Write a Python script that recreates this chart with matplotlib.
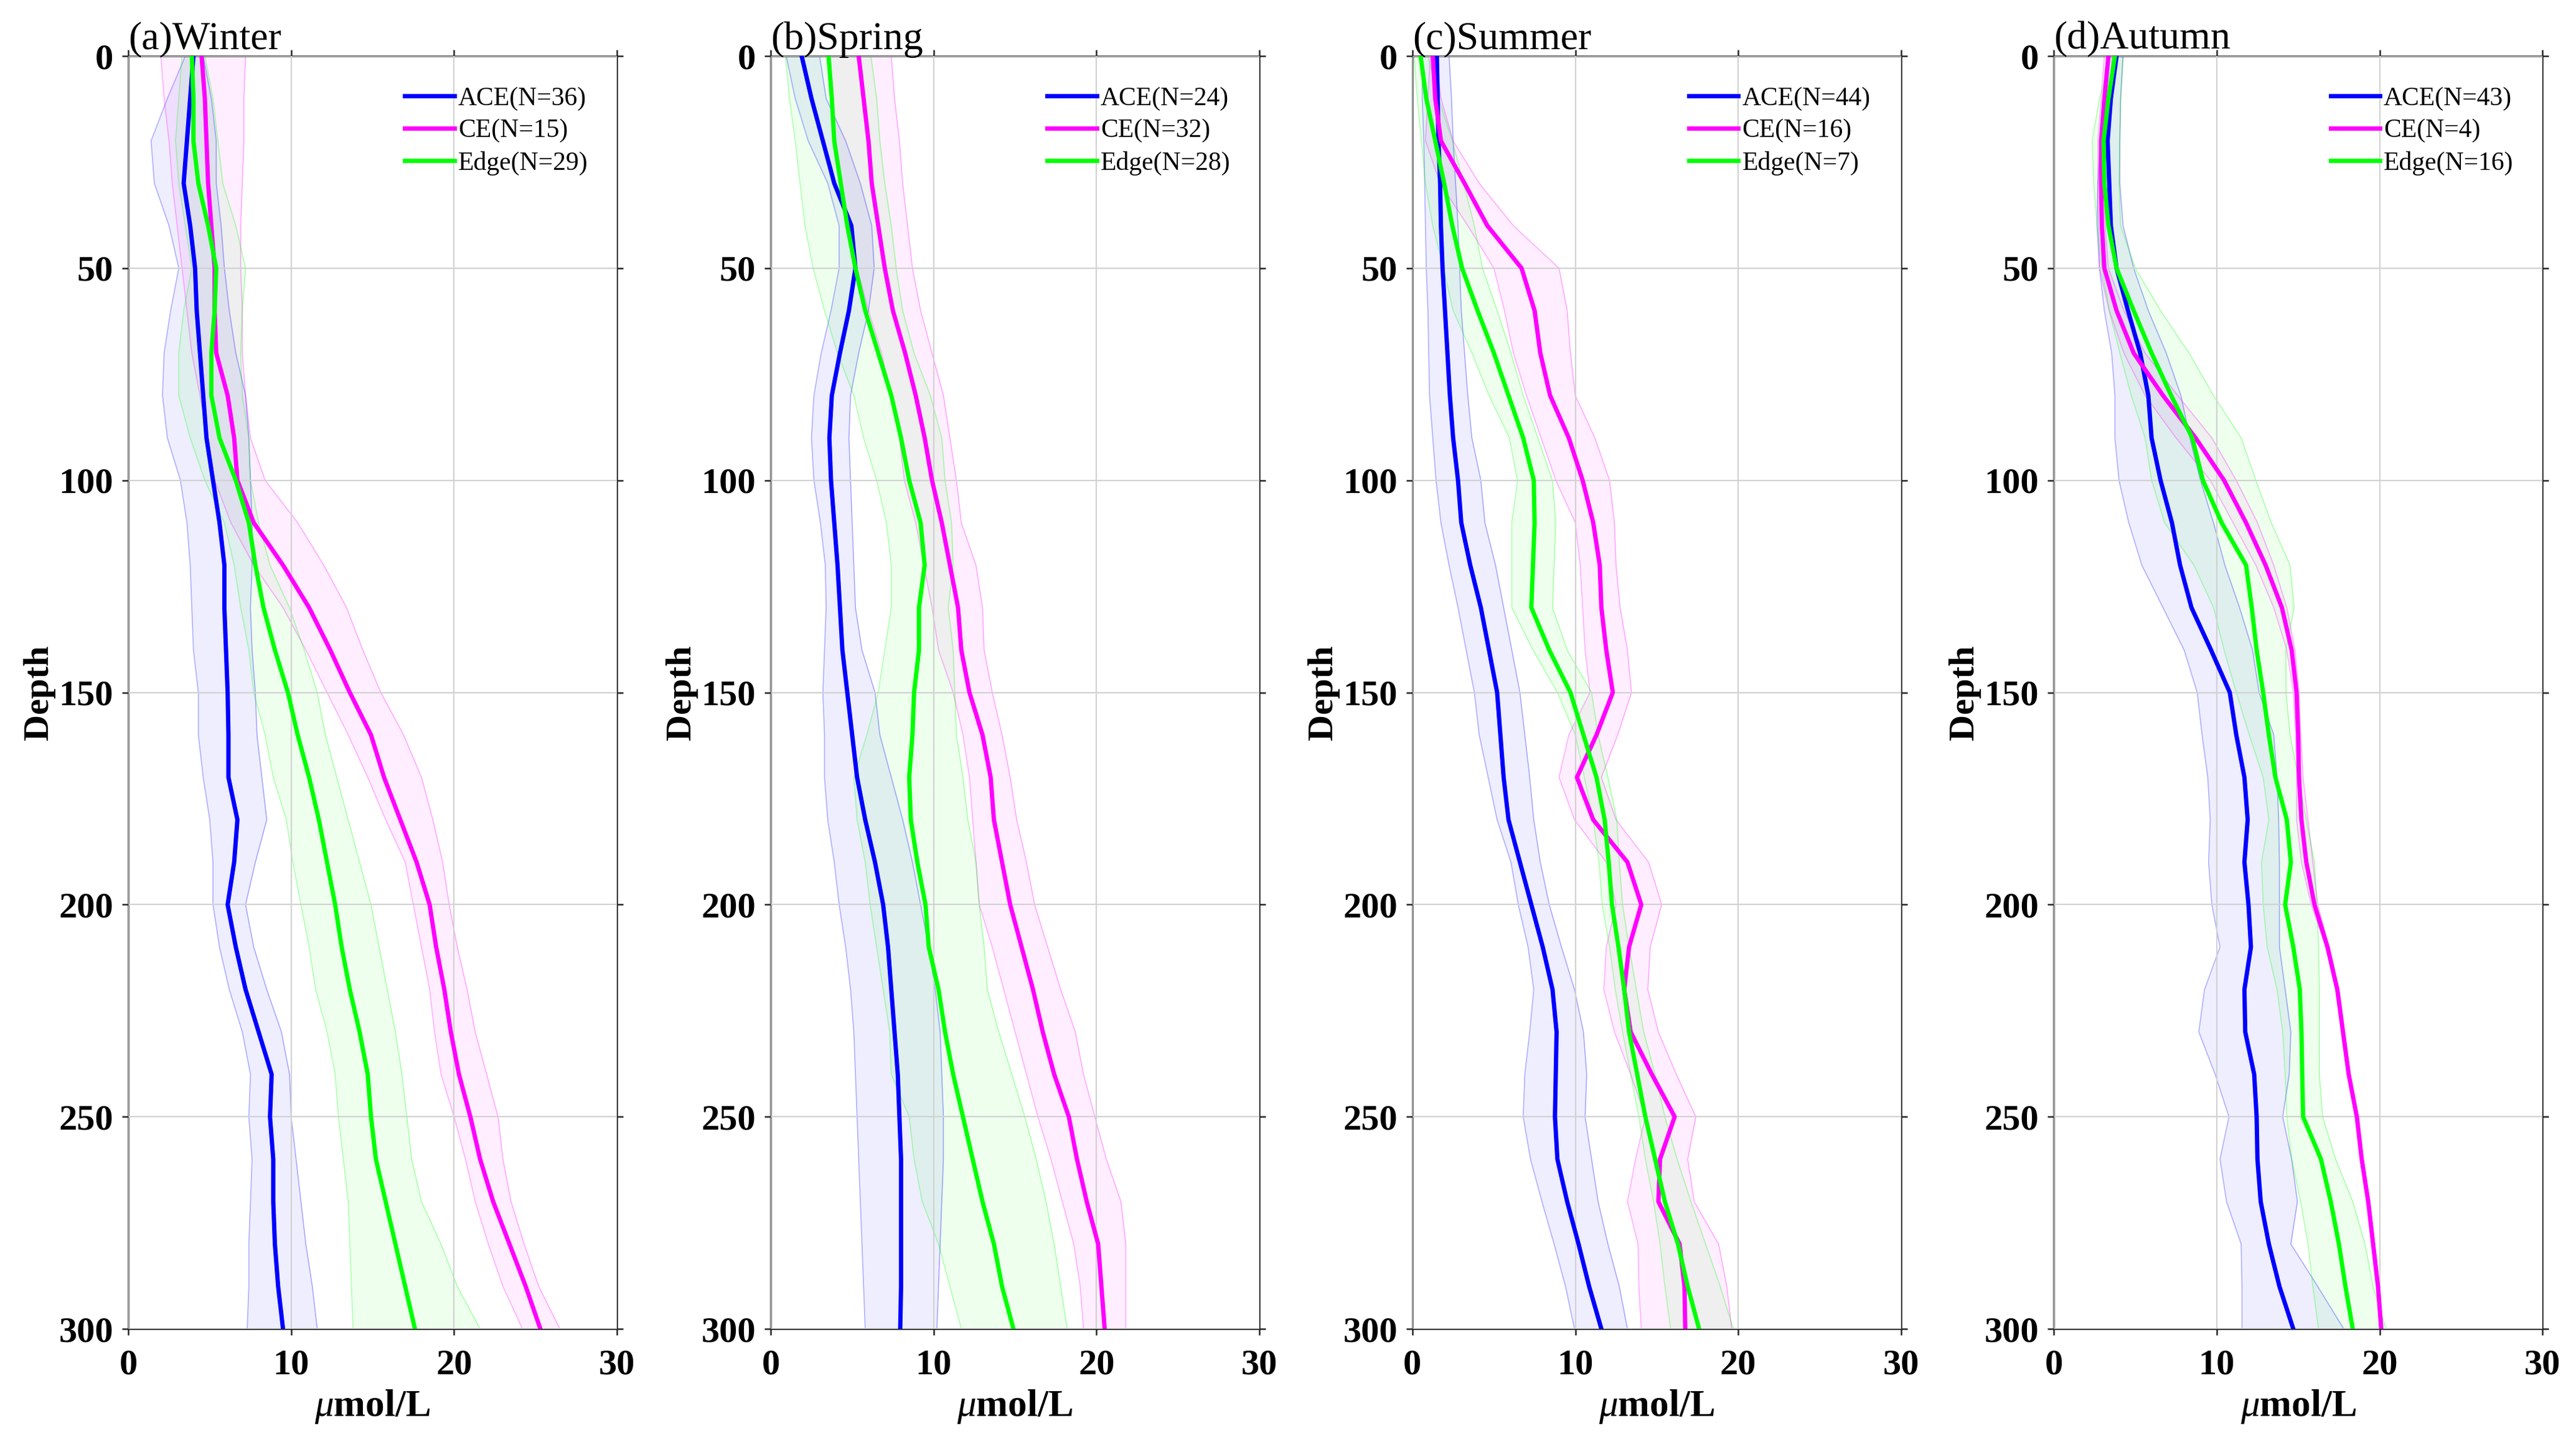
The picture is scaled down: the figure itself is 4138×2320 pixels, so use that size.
import matplotlib
matplotlib.use('Agg')
import matplotlib.pyplot as plt

plt.rcParams['font.family'] = 'Liberation Serif'
plt.rcParams['mathtext.fontset'] = 'custom'
plt.rcParams['mathtext.rm'] = 'Liberation Serif:bold'
plt.rcParams['mathtext.bf'] = 'Liberation Serif:bold'
plt.rcParams['mathtext.it'] = 'Liberation Serif:italic'

# depth levels (m), every 10 m
depth = list(range(0, 301, 10))

# ---------------- Winter ----------------
w_ace    = [4.0, 3.8, 3.6, 3.4, 3.8, 4.1, 4.2, 4.4, 4.6, 4.8, 5.2, 5.6, 5.9, 5.9, 6.0, 6.1, 6.15, 6.15, 6.7, 6.5, 6.1, 6.6, 7.2, 8.0, 8.8, 8.7, 8.9, 8.9, 9.0, 9.2, 9.5]
w_ace_lo = [3.5, 2.4, 1.4, 1.6, 2.5, 3.1, 2.6, 2.2, 2.1, 2.4, 3.2, 3.6, 3.8, 3.9, 4.0, 4.3, 4.3, 4.6, 5.0, 5.2, 5.2, 5.6, 6.2, 7.0, 7.5, 7.4, 7.6, 7.5, 7.4, 7.4, 7.3]
w_ace_hi = [4.6, 5.1, 5.4, 5.4, 5.7, 5.9, 6.2, 6.6, 7.2, 7.4, 7.5, 7.6, 7.6, 7.5, 7.6, 7.8, 7.9, 8.2, 8.5, 7.8, 7.2, 7.7, 8.5, 9.4, 9.9, 10.0, 10.3, 10.6, 10.9, 11.3, 11.6]
w_ce     = [4.5, 4.7, 4.8, 4.9, 5.1, 5.3, 5.3, 5.4, 6.1, 6.5, 6.7, 7.7, 9.5, 11.1, 12.4, 13.6, 14.9, 15.7, 16.7, 17.7, 18.5, 18.9, 19.4, 19.8, 20.3, 21.0, 21.6, 22.4, 23.4, 24.4, 25.3]
w_ce_lo  = [2.0, 2.2, 2.5, 2.7, 3.0, 3.3, 3.6, 3.9, 4.4, 4.9, 5.3, 6.3, 7.7, 9.5, 10.9, 12.2, 13.5, 14.7, 15.8, 17.0, 17.5, 18.0, 18.5, 18.8, 19.2, 20.0, 20.7, 21.3, 22.1, 23.0, 24.2]
w_ce_hi  = [7.2, 7.1, 7.1, 7.0, 6.9, 6.9, 7.0, 7.0, 7.2, 7.5, 8.4, 10.4, 12.0, 13.4, 14.4, 15.5, 16.9, 18.0, 18.7, 19.3, 19.7, 20.2, 20.8, 21.3, 22.0, 22.7, 23.0, 23.5, 24.3, 25.2, 26.5]
w_edge    = [3.9, 4.0, 4.0, 4.3, 4.9, 5.4, 5.3, 5.1, 5.1, 5.6, 6.6, 7.4, 7.8, 8.3, 9.0, 9.8, 10.4, 11.1, 11.7, 12.2, 12.7, 13.1, 13.6, 14.2, 14.7, 14.9, 15.2, 15.8, 16.4, 17.0, 17.6]
w_edge_lo = [3.3, 3.1, 2.9, 3.1, 3.5, 3.9, 3.4, 3.1, 3.1, 3.8, 4.7, 5.9, 6.5, 6.9, 7.4, 7.7, 8.4, 8.9, 9.7, 10.1, 10.6, 11.1, 11.5, 12.2, 12.7, 12.9, 13.2, 13.5, 13.6, 13.7, 13.8]
w_edge_hi = [4.7, 5.2, 5.5, 5.8, 6.6, 7.2, 7.0, 6.9, 7.0, 7.4, 7.5, 8.0, 8.7, 9.9, 10.8, 11.6, 12.1, 12.8, 13.5, 14.2, 14.9, 15.4, 15.9, 16.4, 16.8, 17.1, 17.4, 18.0, 19.2, 20.2, 21.6]

# ---------------- Spring ----------------
s_ace    = [1.9, 2.5, 3.2, 3.9, 4.95, 5.2, 4.8, 4.25, 3.75, 3.6, 3.7, 3.9, 4.1, 4.25, 4.4, 4.7, 5.0, 5.3, 5.8, 6.4, 6.9, 7.2, 7.4, 7.6, 7.8, 7.9, 8.0, 8.0, 8.0, 8.0, 7.95]
s_ace_lo = [0.95, 1.5, 2.3, 3.5, 4.2, 4.2, 3.7, 3.1, 2.65, 2.5, 2.65, 3.05, 3.35, 3.4, 3.3, 3.2, 3.3, 3.3, 3.5, 3.9, 4.2, 4.6, 4.9, 5.1, 5.2, 5.3, 5.4, 5.5, 5.6, 5.7, 5.8]
s_ace_hi = [3.0, 3.4, 4.6, 5.5, 6.2, 6.35, 6.0, 5.4, 4.9, 4.8, 4.9, 5.0, 5.1, 5.2, 5.6, 6.4, 6.7, 7.4, 8.1, 8.7, 9.2, 9.7, 10.1, 10.4, 10.5, 10.6, 10.6, 10.5, 10.4, 10.3, 10.2]
s_ce     = [5.4, 5.7, 6.0, 6.2, 6.6, 7.0, 7.5, 8.25, 8.9, 9.45, 9.9, 10.5, 11.0, 11.5, 11.7, 12.2, 13.0, 13.5, 13.7, 14.2, 14.7, 15.4, 16.1, 16.7, 17.4, 18.3, 18.8, 19.4, 20.1, 20.3, 20.5]
s_ce_lo  = [3.6, 3.7, 3.9, 4.3, 4.8, 5.3, 6.0, 6.8, 7.4, 7.9, 8.2, 8.9, 9.4, 9.9, 10.3, 11.2, 11.8, 12.2, 12.4, 12.6, 12.8, 13.6, 14.3, 15.0, 15.7, 16.4, 17.2, 17.9, 18.6, 19.0, 19.2]
s_ce_hi  = [7.4, 7.6, 7.9, 8.1, 8.4, 8.7, 9.2, 9.9, 10.6, 11.0, 11.4, 11.7, 12.6, 13.0, 13.1, 13.6, 14.2, 14.7, 15.1, 15.7, 16.2, 17.0, 17.8, 18.7, 19.2, 19.9, 20.6, 21.5, 21.8, 21.8, 21.8]
s_edge    = [3.55, 3.75, 3.9, 4.3, 4.7, 5.2, 5.8, 6.6, 7.4, 8.0, 8.5, 9.2, 9.45, 9.1, 9.1, 8.8, 8.7, 8.5, 8.6, 9.0, 9.5, 9.7, 10.3, 10.7, 11.2, 11.8, 12.4, 13.0, 13.7, 14.2, 14.9]
s_edge_lo = [0.9, 1.15, 1.5, 1.8, 2.1, 2.6, 3.3, 4.1, 5.1, 5.7, 6.5, 7.1, 7.4, 7.4, 7.0, 6.6, 5.9, 5.1, 5.3, 5.8, 6.1, 6.5, 6.9, 7.3, 7.4, 8.5, 8.8, 9.3, 10.3, 11.0, 11.7]
s_edge_hi = [6.15, 6.5, 6.7, 7.0, 7.4, 7.7, 8.1, 8.8, 9.8, 10.5, 10.7, 11.1, 11.2, 10.9, 11.2, 11.3, 11.4, 11.8, 12.1, 12.6, 12.8, 13.1, 13.3, 14.0, 14.8, 15.6, 16.3, 16.9, 17.4, 17.8, 18.2]

# ---------------- Summer ----------------
u_ace    = [1.5, 1.55, 1.6, 1.7, 1.75, 1.85, 2.0, 2.15, 2.3, 2.5, 2.8, 3.0, 3.55, 4.2, 4.7, 5.2, 5.4, 5.6, 5.9, 6.6, 7.3, 8.0, 8.6, 8.85, 8.8, 8.75, 8.9, 9.5, 10.2, 10.85, 11.6]
u_ace_lo = [0.6, 0.6, 0.7, 0.75, 0.8, 0.85, 0.95, 1.0, 1.05, 1.25, 1.45, 1.75, 2.25, 2.8, 3.3, 3.8, 4.1, 4.65, 5.2, 6.05, 6.5, 7.1, 7.45, 7.2, 6.9, 6.8, 7.25, 7.95, 8.7, 9.4, 9.95]
u_ace_hi = [2.25, 2.4, 2.5, 2.65, 2.8, 2.9, 3.0, 3.2, 3.4, 3.65, 4.2, 4.45, 5.1, 5.6, 6.1, 6.6, 6.9, 7.2, 7.45, 7.85, 8.4, 9.15, 9.95, 10.5, 10.7, 10.6, 11.0, 11.4, 12.0, 12.7, 13.2]
u_ce     = [1.25, 1.4, 1.75, 3.2, 4.6, 6.7, 7.5, 7.85, 8.45, 9.6, 10.45, 11.1, 11.5, 11.6, 11.9, 12.3, 11.3, 10.1, 11.1, 13.2, 14.05, 13.3, 13.0, 13.4, 14.7, 16.1, 15.2, 15.1, 16.4, 16.7, 16.75]
u_ce_lo  = [1.1, 0.95, 0.8, 1.7, 3.4, 5.0, 5.65, 6.2, 7.0, 7.9, 8.8, 10.0, 10.3, 10.45, 10.6, 10.9, 9.6, 9.0, 9.95, 11.9, 12.5, 11.9, 11.75, 12.4, 13.4, 14.3, 13.7, 13.2, 13.85, 13.9, 14.05]
u_ce_hi  = [1.4, 1.75, 2.5, 4.1, 6.2, 9.0, 9.5, 9.7, 10.0, 11.2, 12.1, 12.4, 12.5, 12.75, 13.2, 13.45, 12.6, 11.6, 12.5, 14.5, 15.3, 14.6, 14.45, 15.1, 16.2, 17.4, 16.9, 17.3, 18.8, 19.3, 19.6]
u_edge    = [0.5, 0.85, 1.4, 1.95, 2.45, 3.05, 4.0, 5.0, 5.9, 6.8, 7.45, 7.5, 7.4, 7.3, 8.4, 9.7, 10.5, 11.3, 11.8, 12.05, 12.25, 12.65, 13.0, 13.3, 13.8, 14.3, 14.9, 15.5, 16.3, 16.9, 17.6]
u_edge_lo = [0.1, 0.3, 0.55, 0.8, 1.25, 1.9, 2.5, 3.65, 4.7, 5.95, 6.45, 6.1, 6.1, 6.1, 7.4, 8.9, 10.0, 10.55, 11.1, 11.45, 11.65, 12.1, 12.45, 12.9, 13.4, 13.9, 14.3, 14.8, 15.2, 15.5, 15.85]
u_edge_hi = [0.95, 1.6, 2.45, 3.15, 3.8, 4.3, 5.2, 6.05, 6.8, 7.7, 8.6, 8.8, 8.7, 8.6, 9.5, 11.0, 11.4, 12.0, 12.55, 12.7, 12.9, 13.3, 13.75, 14.2, 14.9, 15.5, 16.25, 17.1, 18.0, 18.9, 19.7]

# ---------------- Autumn ----------------
a_ace    = [3.85, 3.5, 3.3, 3.4, 3.5, 3.85, 4.55, 5.3, 5.8, 6.0, 6.55, 7.25, 7.75, 8.45, 9.65, 10.8, 11.2, 11.7, 11.9, 11.7, 11.95, 12.1, 11.7, 11.75, 12.3, 12.45, 12.5, 12.7, 13.2, 13.85, 14.7]
a_ace_lo = [3.4, 3.2, 2.85, 2.7, 2.65, 2.8, 3.1, 3.55, 3.75, 3.75, 4.0, 4.6, 5.4, 6.7, 8.0, 8.8, 9.1, 9.45, 9.6, 9.5, 9.7, 10.2, 9.25, 8.9, 9.9, 10.75, 10.2, 10.6, 11.5, 11.55, 11.55]
a_ace_hi = [4.25, 4.1, 4.05, 4.05, 4.25, 4.9, 5.8, 6.9, 7.8, 8.35, 9.0, 9.8, 10.5, 11.4, 12.2, 12.6, 13.5, 13.7, 13.8, 13.85, 13.85, 13.85, 14.2, 14.55, 14.45, 14.05, 14.6, 14.95, 14.55, 16.2, 17.8]
a_ce     = [3.35, 3.1, 2.9, 2.9, 2.95, 3.1, 3.85, 4.9, 6.7, 8.7, 10.45, 11.8, 13.0, 14.0, 14.6, 14.9, 15.0, 15.05, 15.2, 15.5, 16.0, 16.8, 17.4, 17.75, 18.1, 18.6, 18.9, 19.3, 19.6, 19.9, 20.1]
a_ce_lo  = [3.1, 2.9, 2.7, 2.7, 2.75, 2.8, 3.4, 4.3, 5.6, 7.5, 9.6, 11.0, 12.4, 13.5, 14.3, 14.7, 14.85, 14.9, 14.9, 15.2, 15.8, 16.7, 17.3, 17.7, 18.05, 18.55, 18.85, 19.25, 19.55, 19.85, 20.05]
a_ce_hi  = [3.6, 3.35, 3.15, 3.1, 3.15, 3.35, 4.3, 5.6, 7.6, 9.7, 11.2, 12.5, 13.5, 14.3, 14.8, 15.05, 15.15, 15.3, 15.6, 15.9, 16.2, 16.9, 17.5, 17.85, 18.2, 18.7, 19.0, 19.4, 19.7, 20.0, 20.2]
a_edge    = [3.75, 3.35, 3.05, 3.1, 3.35, 3.85, 4.9, 6.0, 7.2, 8.5, 9.15, 10.3, 11.8, 12.15, 12.45, 12.85, 13.2, 13.6, 14.3, 14.55, 14.2, 14.7, 15.1, 15.2, 15.25, 15.3, 16.4, 17.0, 17.5, 17.9, 18.35]
a_edge_lo = [3.5, 2.8, 2.35, 2.45, 2.65, 2.95, 3.4, 4.05, 4.75, 5.6, 6.0, 6.8, 8.6, 9.8, 10.45, 11.2, 12.0, 12.85, 13.2, 12.75, 12.85, 13.1, 13.7, 14.05, 14.2, 14.3, 14.6, 15.15, 15.6, 15.9, 16.25]
a_edge_hi = [4.25, 4.1, 4.05, 4.0, 4.1, 5.0, 6.55, 8.3, 9.8, 11.5, 12.4, 13.35, 14.5, 14.75, 14.25, 14.25, 14.5, 15.0, 15.5, 16.0, 16.15, 16.25, 16.3, 16.3, 16.3, 16.5, 17.3, 18.35, 19.1, 19.6, 20.4]

titles = ['(a)Winter', '(b)Spring', '(c)Summer', '(d)Autumn']
counts = [[36, 15, 29], [24, 32, 28], [44, 16, 7], [43, 4, 16]]
names = ['ACE', 'CE', 'Edge']
colors = ['#0000ff', '#ff00ff', '#00ff00']

panels = [
    [(w_ace, w_ace_lo, w_ace_hi), (w_ce, w_ce_lo, w_ce_hi), (w_edge, w_edge_lo, w_edge_hi)],
    [(s_ace, s_ace_lo, s_ace_hi), (s_ce, s_ce_lo, s_ce_hi), (s_edge, s_edge_lo, s_edge_hi)],
    [(u_ace, u_ace_lo, u_ace_hi), (u_ce, u_ce_lo, u_ce_hi), (u_edge, u_edge_lo, u_edge_hi)],
    [(a_ace, a_ace_lo, a_ace_hi), (a_ce, a_ce_lo, a_ce_hi), (a_edge, a_edge_lo, a_edge_hi)],
]

fig = plt.figure(figsize=(20.69, 11.6), dpi=200)
lefts = [0.0498, 0.2992, 0.5483, 0.7973]

for i in range(4):
    ax = fig.add_axes([lefts[i], 0.0797, 0.1897, 0.8815])
    # envelopes first
    for (mean, lo, hi), col in zip(panels[i], colors):
        ax.fill_betweenx(depth, lo, hi, color=col, alpha=0.065, lw=0, zorder=1)
        ax.plot(lo, depth, color=col, lw=0.6, alpha=0.3, zorder=2)
        ax.plot(hi, depth, color=col, lw=0.6, alpha=0.3, zorder=2)
    for (mean, lo, hi), col, nm, n in zip(panels[i], colors, names, counts[i]):
        ax.plot(mean, depth, color=col, lw=2.5, zorder=3, label='%s(N=%d)' % (nm, n))

    ax.set_xlim(0, 30)
    ax.set_ylim(300, 0)
    ax.set_xticks([0, 10, 20, 30])
    ax.set_yticks(range(0, 301, 50))
    ax.grid(True, color='#d2d2d2', lw=0.8)
    ax.set_axisbelow(False)
    for sp in ax.spines.values():
        sp.set_color('#262626')
        sp.set_linewidth(0.9)
    ax.tick_params(direction='out', length=3.6, width=0.9, top=True, right=True,
                   colors='#262626', labelcolor='black', labelsize=21)
    ax.tick_params(axis='y', pad=5)
    ax.tick_params(axis='x', pad=8)
    for lab in ax.get_xticklabels() + ax.get_yticklabels():
        lab.set_fontweight('bold')
    ax.set_xlabel(r'$\mu$mol/L', fontsize=22, fontweight='bold', labelpad=4)
    ax.set_ylabel('Depth', fontsize=21, fontweight='bold', labelpad=2)
    ax.set_title(titles[i], loc='left', fontsize=23, pad=4)
    ax.legend(loc='upper left', bbox_to_anchor=(0.566, 0.976), frameon=False,
              fontsize=15, handlelength=1.9, handletextpad=0.15, labelspacing=0.32,
              borderpad=0, borderaxespad=0)

fig.savefig('out.png', dpi=200)
